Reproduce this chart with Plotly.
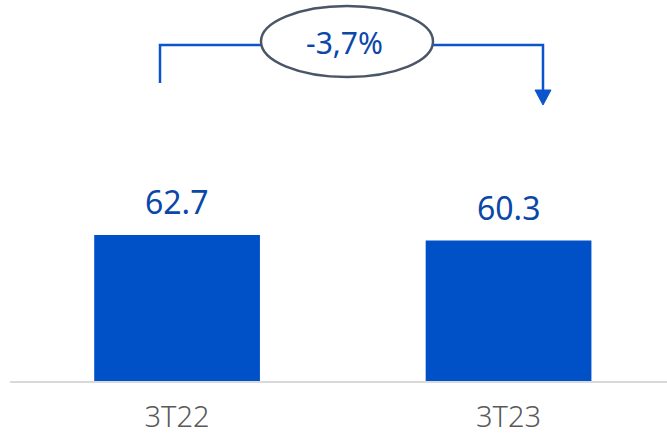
import plotly.graph_objects as go

categories = ["3T22", "3T23"]
values = [62.7, 60.3]
value_labels = ["62.7", "60.3"]
change_label = "-3,7%"

W, H = 667, 434
ML, MR, MT, MB = 10, 0, 0, 53
PW, PH = W - ML - MR, H - MT - MB

def px(x):
    return (x - ML) / PW

def py(y):
    return 1 - (y - MT) / PH

BAR = "#0050c8"
LBL = "#0b47a8"
LINE = "#0a55cc"

fig = go.Figure()
fig.add_trace(go.Bar(
    x=categories, y=values, width=0.5,
    marker=dict(color=BAR, line=dict(width=0)),
    hoverinfo="skip",
))

for c, v, t in zip(categories, values, value_labels):
    fig.add_annotation(x=c, y=v, text=t, showarrow=False, yanchor="bottom",
                       yshift=10, font=dict(family="Noto Sans", size=32, color=LBL))

shapes = []
# left bracket
shapes.append(dict(type="path", xref="paper", yref="paper",
                   path=f"M {px(160)} {py(83)} L {px(160)} {py(45)} L {px(261)} {py(45)}",
                   line=dict(color=LINE, width=2.5)))
# right bracket
shapes.append(dict(type="path", xref="paper", yref="paper",
                   path=f"M {px(433)} {py(45)} L {px(543)} {py(45)} L {px(543)} {py(93)}",
                   line=dict(color=LINE, width=2.5)))
# arrowhead
shapes.append(dict(type="path", xref="paper", yref="paper",
                   path=f"M {px(535)} {py(90)} L {px(551)} {py(90)} L {px(543)} {py(105)} Z",
                   fillcolor=LINE, line=dict(color=LINE, width=1)))
# ellipse
shapes.append(dict(type="circle", xref="paper", yref="paper",
                   x0=px(261), x1=px(433), y0=py(77), y1=py(6),
                   line=dict(color="#4a5568", width=2.5), fillcolor="rgba(0,0,0,0)"))
fig.update_layout(shapes=shapes)

fig.add_annotation(xref="paper", yref="paper", x=px(344), y=py(43), text=change_label,
                   showarrow=False, xanchor="center", yanchor="middle",
                   font=dict(family="Noto Sans", size=30, color=LBL))

ymax = PH / (146 / 62.7)
fig.update_layout(
    width=W, height=H,
    margin=dict(l=ML, r=MR, t=MT, b=MB, autoexpand=False),
    paper_bgcolor="white", plot_bgcolor="white",
    showlegend=False,
    bargap=0.5,
    xaxis=dict(range=[-0.504, 1.478], showgrid=False, zeroline=False,
               automargin=False,
               showline=True, linecolor="#d9d9d9", linewidth=2,
               ticks="", ticklabelstandoff=9,
               tickfont=dict(family="Noto Sans", size=29, color="#595959", weight=300)),
    yaxis=dict(range=[0, ymax], visible=False, showgrid=False, zeroline=False,
               automargin=False),
)

fig.write_html("out.html", config={"displayModeBar": False},
               post_script="document.body.style.margin='0';document.body.style.overflow='hidden';")
